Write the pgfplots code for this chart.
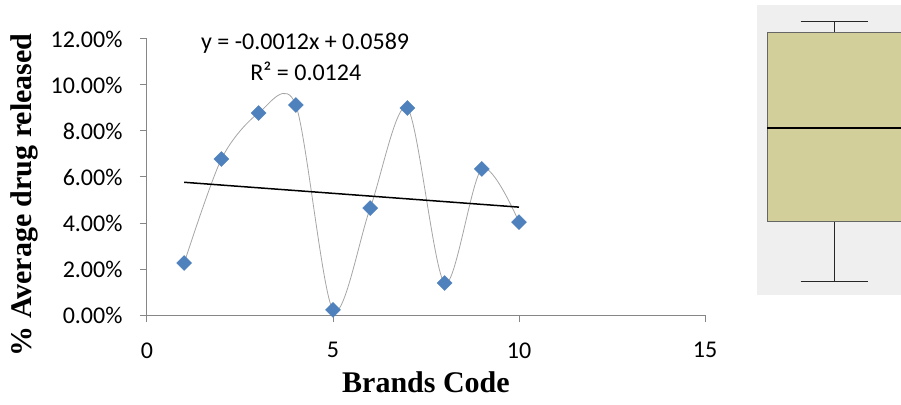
\documentclass[border=0pt]{standalone}
\usepackage{pgfplots}
\pgfplotsset{compat=1.18}
\usepgfplotslibrary{statistics}
\usepackage{fontspec}
\setmainfont{Carlito}
\newfontfamily\tnr{Liberation Serif}

\definecolor{markblue}{RGB}{79,129,189}
\definecolor{axgray}{RGB}{134,134,134}
\definecolor{curvegray}{RGB}{165,165,165}
\definecolor{panelgray}{RGB}{239,239,239}
\definecolor{boxfill}{RGB}{211,207,155}

\begin{document}
\begin{tikzpicture}
\useasboundingbox (-147pt,-89pt) rectangle (754pt,315pt);
\begin{axis}[
  at={(0pt,0pt)}, anchor=south west,
  scale only axis, width=558pt, height=276pt,
  xmin=0, xmax=15, ymin=0, ymax=12,
  axis lines=left,
  axis line style={draw=axgray, line width=1pt, -},
  xtick={0,5,10,15}, ytick={0,2,...,12},
  tick align=outside,
  major tick length=7pt,
  major tick style={axgray, line width=1pt},
  /pgf/number format/assume math mode=true,
  xticklabel style={font=\fontsize{24}{28}\selectfont, yshift=-17pt},
  yticklabel style={font=\fontsize{24}{28}\selectfont, xshift=-14pt},
  yticklabel={\pgfmathprintnumber[fixed,fixed zerofill,precision=2]{\tick}\%},
  xticklabel={\pgfmathprintnumber{\tick}},
  xlabel={Brands Code},
  ylabel={\% Average drug released},
  every axis x label/.style={at={(rel axis cs:0.5,-0.243)}, anchor=center, font=\tnr\bfseries\fontsize{30}{34}\selectfont},
  every axis y label/.style={at={(rel axis cs:-0.22,0.435)}, anchor=center, rotate=90, font=\tnr\bfseries\fontsize{30}{34}\selectfont},
  clip=false,
]
\addplot[curvegray, line width=0.8pt, smooth, tension=0.5, no marks] coordinates {
(1,2.26) (2,6.78) (3,8.78) (4,9.13) (5,0.22) (6,4.65) (7,9.00) (8,1.39) (9,6.35) (10,4.04)
};
\addplot[black, line width=1.5pt, no marks] coordinates {(1,5.77) (10,4.69)};
\addplot[only marks, mark=square*, mark size=5.3pt, mark options={rotate=45, fill=markblue, draw=markblue}] coordinates {
(1,2.26) (2,6.78) (3,8.78) (4,9.13) (5,0.22) (6,4.65) (7,9.00) (8,1.39) (9,6.35) (10,4.04)
};
\node[font=\fontsize{24}{28}\selectfont] at (axis cs:4.25,11.8) {y = -0.0012x + 0.0589};
\node[font=\fontsize{24}{28}\selectfont] at (axis cs:4.27,10.6) {R² = 0.0124};
\end{axis}
\begin{axis}[
  at={(610pt,20pt)}, anchor=south west,
  scale only axis, width=144pt, height=290pt,
  xmin=0, xmax=144, ymin=0, ymax=290,
  axis line style={draw=none},
  ticks=none,
  axis background/.style={fill=panelgray},
  boxplot/draw direction=y,
]
\addplot[draw=black!85, line width=1pt, fill=boxfill,
  boxplot prepared={draw position=77, box extend=134, whisker extend=67,
    lower whisker=13, lower quartile=73, median=167, upper quartile=262, upper whisker=273},
  boxplot/every median/.style={draw=black, line width=1.5pt},
  boxplot/every box/.style={draw=black!60, fill=boxfill, line width=1pt},
] coordinates {};
\end{axis}
\end{tikzpicture}
\end{document}
